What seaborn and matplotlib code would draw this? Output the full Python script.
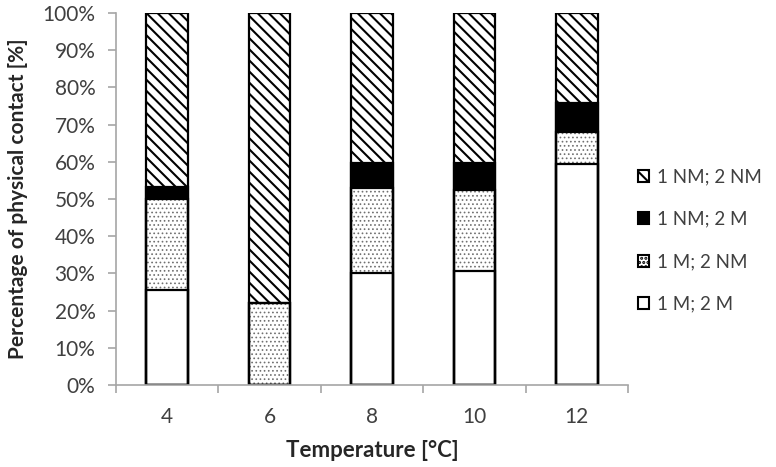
import matplotlib
matplotlib.use("Agg")
import matplotlib.pyplot as plt
import seaborn as sns
from matplotlib.patches import Patch
from matplotlib.ticker import PercentFormatter

temps = ["4", "6", "8", "10", "12"]
m_m = [25.5, 0.0, 30.2, 30.6, 59.4]      # 1 M; 2 M
m_nm = [24.4, 22.1, 22.7, 21.8, 8.5]     # 1 M; 2 NM
nm_m = [3.4, 0.0, 6.9, 7.4, 7.8]         # 1 NM; 2 M
nm_nm = [46.7, 77.9, 40.2, 40.2, 24.3]   # 1 NM; 2 NM

series_labels = ["1 M; 2 M", "1 M; 2 NM", "1 NM; 2 M", "1 NM; 2 NM"]
series_values = [m_m, m_nm, nm_m, nm_nm]
hatches = ["", "....", "", "\\\\\\"]
faces = ["white", "white", "black", "white"]
hatch_colors = ["black", "#707070", "black", "black"]
hatch_widths = [1.5, 0.7, 1.5, 1.5]

sns.set_theme(style="white")
plt.rcParams["font.family"] = ["Lato", "DejaVu Sans"]
plt.rcParams["hatch.linewidth"] = 1.5

fig = plt.figure(figsize=(7.76, 4.67), dpi=100)
ax = fig.add_axes([0.1495, 0.1756, 0.6598, 0.7966])

# cumulative tops, drawn from tallest down so lower segments overlay
cums = []
run = [0.0] * len(temps)
for vals in series_values:
    run = [r + v / 100.0 for r, v in zip(run, vals)]
    cums.append(run)

for i in reversed(range(len(series_values))):
    n0 = len(ax.patches)
    sns.barplot(x=temps, y=cums[i], color=faces[i], saturation=1,
                edgecolor=hatch_colors[i], linewidth=0, hatch=hatches[i],
                width=0.405, ax=ax)
    for p in ax.patches[n0:]:
        if hasattr(p, "set_hatch_linewidth"):
            p.set_hatch_linewidth(hatch_widths[i])
# black outlines on top
for i in reversed(range(len(series_values))):
    sns.barplot(x=temps, y=cums[i], color="black", saturation=1, fill=False,
                linewidth=1.6, width=0.405, ax=ax)

ax.set_ylim(0, 1)
ax.set_xlim(-0.5, 4.5)
ax.set_yticks([i / 10 for i in range(11)])
ax.yaxis.set_major_formatter(PercentFormatter(1.0, decimals=0))
ax.set_xticks([i - 0.5 for i in range(6)])
ax.set_xticklabels([""] * 6)
ax.set_xticks(range(5), minor=True)
ax.set_xticklabels(temps, minor=True)
ax.tick_params(axis="x", which="major", length=5.8, width=1.2, color="#a6a6a6",
               direction="out", bottom=True)
ax.tick_params(axis="x", which="minor", length=0, pad=16, labelsize=15, labelcolor="#404040")
ax.tick_params(axis="y", length=5.8, width=1.2, color="#a6a6a6", direction="out", left=True,
               labelsize=15, labelcolor="#404040", pad=9)

for side in ["top", "right"]:
    ax.spines[side].set_visible(False)
for side in ["left", "bottom"]:
    ax.spines[side].set_color("#a6a6a6")
    ax.spines[side].set_linewidth(1.2)

ax.set_xlabel("Temperature [°C]", fontsize=16, fontweight="bold")
ax.set_ylabel("Percentage of physical contact [%]", fontsize=15, fontweight="bold")
ax.yaxis.set_label_coords(-0.172, 0.5)
ax.xaxis.set_label_coords(0.5, -0.148)

handles = [Patch(facecolor=faces[i], edgecolor="black", hatch=hatches[i], linewidth=1.5,
                 label=series_labels[i]) for i in reversed(range(4))]
fig.legend(handles=handles, loc="center left", bbox_to_anchor=(0.822, 0.485),
           frameon=False, fontsize=13.5, handlelength=0.6, handleheight=0.6,
           handletextpad=0.4, labelspacing=1.35, labelcolor="#404040",
           borderaxespad=0, borderpad=0)

fig.savefig("out.png", dpi=100)
